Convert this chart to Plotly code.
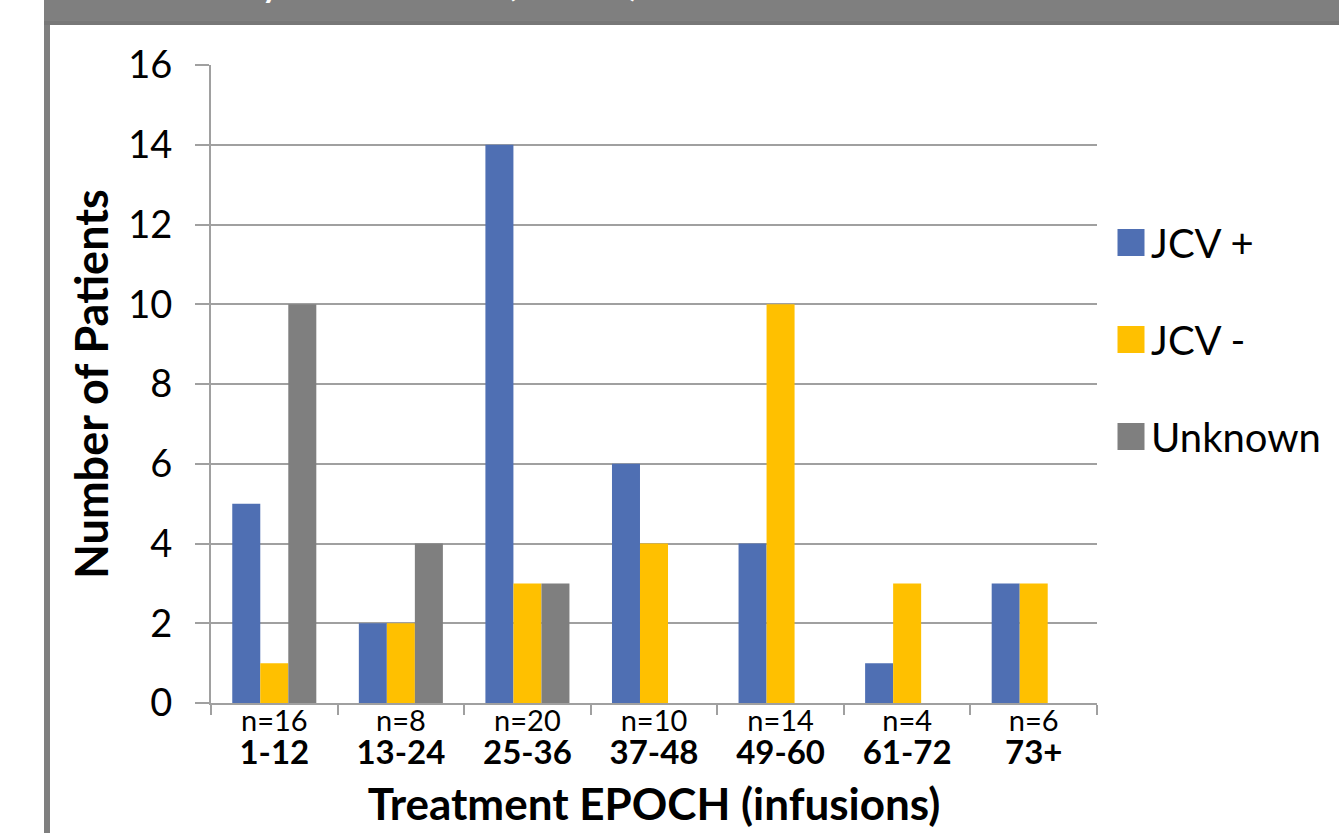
import plotly.graph_objects as go

categories = ["1-12", "13-24", "25-36", "37-48", "49-60", "61-72", "73+"]
n_labels = ["n=16", "n=8", "n=20", "n=10", "n=14", "n=4", "n=6"]
jcv_pos = [5, 2, 14, 6, 4, 1, 3]
jcv_neg = [1, 2, 3, 4, 10, 3, 3]
unknown = [10, 4, 3, 0, 0, 0, 0]
series_names = ["JCV +", "JCV -", "Unknown"]
series_colors = ["#4F6FB3", "#FFC000", "#7F7F7F"]
y_ticks = [0, 2, 4, 6, 8, 10, 12, 14, 16]

W, H = 1339, 833
L, R, T, B = 211, 1097, 65, 703


def px(p):
    return (p - L) / (R - L)


def py(p):
    return (B - p) / (B - T)


fig = go.Figure()
for i, (name, vals, col) in enumerate(zip(series_names, [jcv_pos, jcv_neg, unknown], series_colors)):
    fig.add_trace(go.Bar(
        x=categories, y=vals, name=name, marker=dict(color=col, line=dict(width=0)),
        legendgroup=name,
    ))

ticktext = [f"<span style='font-size:29px'>{n}</span><br><span style='font-size:33px'><b>{c}</b></span>"
            for n, c in zip(n_labels, categories)]

fig.update_layout(
    width=W, height=H,
    margin=dict(l=L, r=W - R, t=T, b=H - B, pad=0),
    paper_bgcolor="white", plot_bgcolor="white",
    barmode="group", bargap=0.336, bargroupgap=0,
    font=dict(family="Lato", color="black"),
    showlegend=True,
    legend=dict(
        x=px(1111), y=py(210), xanchor="left", yanchor="top",
        font=dict(family="Lato", size=40, color="black"),
        tracegroupgap=42, bgcolor="rgba(0,0,0,0)",
    ),
    xaxis=dict(
        type="category", tickmode="array", tickvals=categories, ticktext=ticktext,
        tickfont=dict(family="Lato", size=25, color="black"),
        showline=True, linecolor="#A0A0A0", linewidth=2,
        ticks="outside", tickson="boundaries", ticklen=10, tickcolor="#A0A0A0", tickwidth=2,
        ticklabelstandoff=-4,
        showgrid=False,
        title=dict(text="<b>Treatment EPOCH (infusions)</b>", font=dict(family="Lato", size=44, color="black"), standoff=20),
    ),
    yaxis=dict(
        range=[0, 16], tickmode="array", tickvals=y_ticks,
        tickfont=dict(family="Lato", size=38, color="black"),
        showline=True, linecolor="#A0A0A0", linewidth=2,
        ticks="outside", ticklen=14, tickcolor="#A0A0A0", tickwidth=2,
        ticklabelstandoff=15,
        showgrid=True, gridcolor="#A0A0A0", gridwidth=2, zeroline=False,
        title=dict(text="<b>Number of Patients</b>", font=dict(family="Lato", size=45, color="black"), standoff=6),
    ),
    shapes=[
        dict(type="rect", xref="paper", yref="paper", x0=px(44), x1=px(W + 5), y0=py(25), y1=py(-5),
             fillcolor="#7F7F7F", line=dict(width=0), layer="above"),
        dict(type="rect", xref="paper", yref="paper", x0=px(44), x1=px(W + 5), y0=py(25), y1=py(21),
             fillcolor="#777777", line=dict(width=0), layer="above"),
        dict(type="rect", xref="paper", yref="paper", x0=px(44), x1=px(50), y0=py(H + 5), y1=py(25),
             fillcolor="#7F7F7F", line=dict(width=0), layer="above"),
    ],
    annotations=[
        dict(text="JCV Status by Treatment (N=78)", xref="paper", yref="paper",
             x=px(643), y=py(7), xanchor="right", yanchor="bottom", showarrow=False,
             font=dict(family="Lato", size=45, color="white")),
    ],
)

post = """
document.body.style.margin='0px';
var gd = document.getElementById('{plot_id}');
function bigLegendIcons(){
  document.querySelectorAll('.legendpoints path').forEach(function(p){
    if (p.dataset.baseT === undefined) { p.dataset.baseT = p.getAttribute('transform') || ''; }
    p.setAttribute('transform', p.dataset.baseT + ' scale(2.25)');
  });
}
bigLegendIcons();
if (gd && gd.on) { gd.on('plotly_afterplot', bigLegendIcons); }
setTimeout(bigLegendIcons, 50);
"""

fig.write_html("out.html", config={"displayModeBar": False}, post_script=post)
